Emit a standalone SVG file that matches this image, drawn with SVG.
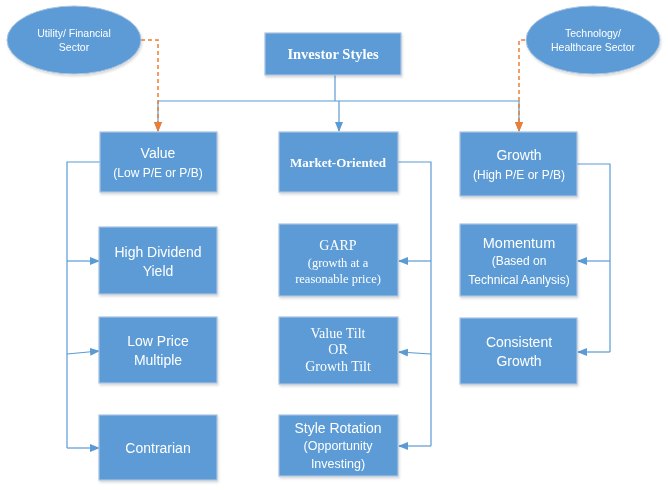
<svg xmlns="http://www.w3.org/2000/svg" width="668" height="490" viewBox="0 0 668 490">
<defs>
<style>
.box{fill:#5B9BD5;stroke:#A9C4E2;stroke-width:1.2}
.ell{fill:#5B9BD5;stroke:#A9C4E2;stroke-width:1}
.t{font-family:"Liberation Sans",Arial,sans-serif;fill:#fff;text-anchor:middle}
.s{font-family:"Liberation Serif","Times New Roman",serif;fill:#fff;text-anchor:middle}
.b{font-weight:bold}
.c{fill:none;stroke:#5B9BD5;stroke-width:1.2}
.o{fill:none;stroke:#ED7D31;stroke-width:1.5;stroke-dasharray:4,3}
</style>
<marker id="ab" markerWidth="10" markerHeight="8" refX="9" refY="4" orient="auto" markerUnits="userSpaceOnUse"><path d="M0,0 L10,4 L0,8 z" fill="#5B9BD5"/></marker>
<marker id="ao" markerWidth="10" markerHeight="8" refX="9" refY="4" orient="auto" markerUnits="userSpaceOnUse"><path d="M0,0 L10,4 L0,8 z" fill="#ED7D31"/></marker>
<filter id="sh" x="-10%" y="-10%" width="130%" height="130%"><feDropShadow dx="1" dy="2" stdDeviation="1.2" flood-color="#000" flood-opacity="0.15"/></filter>
</defs>
<rect width="668" height="490" fill="#fff"/>
<g id="connectors">
<path class="c" d="M335,75 V101"/>
<path class="c" d="M158,101 H519"/>
<path class="c" d="M158,101 V131" marker-end="url(#ab)"/>
<path class="c" d="M339,101 V131" marker-end="url(#ab)"/>
<path class="c" d="M519,101 V131" marker-end="url(#ab)"/>
<path class="c" d="M100,162 H67 V448"/>
<path class="c" d="M67,261 H99" marker-end="url(#ab)"/>
<path class="c" d="M67,354 L99,351" marker-end="url(#ab)"/>
<path class="c" d="M67,448 H99" marker-end="url(#ab)"/>
<path class="c" d="M398,162 H431 V446"/>
<path class="c" d="M431,261 H399" marker-end="url(#ab)"/>
<path class="c" d="M431,354 L399,352" marker-end="url(#ab)"/>
<path class="c" d="M431,446 H399" marker-end="url(#ab)"/>
<path class="c" d="M577,164 H610 V352"/>
<path class="c" d="M610,261 H578" marker-end="url(#ab)"/>
<path class="c" d="M610,352 H578" marker-end="url(#ab)"/>
<path class="o" d="M141,40 H158 V131" marker-end="url(#ao)"/>
<path class="o" d="M525,40 H519 V131" marker-end="url(#ao)"/>
</g>
<g id="utility" filter="url(#sh)"><ellipse class="ell" cx="74" cy="40" rx="67" ry="34"/><text class="t" x="74" y="37" font-size="10.5">Utility/ Financial</text><text class="t" x="74" y="51" font-size="10.5">Sector</text></g>
<g id="technology" filter="url(#sh)"><ellipse class="ell" cx="593" cy="40" rx="67" ry="34"/><text class="t" x="593" y="37" font-size="10.5">Technology/</text><text class="t" x="593" y="51" font-size="10.5">Healthcare Sector</text></g>
<g id="investor" filter="url(#sh)"><rect class="box" x="265" y="33" width="136" height="42"/><text class="s b" x="333" y="59" font-size="14.5">Investor Styles</text></g>
<g id="value" filter="url(#sh)"><rect class="box" x="100" y="132" width="117" height="60"/><text class="t" x="158" y="158" font-size="14">Value</text><text class="t" x="158" y="177" font-size="12">(Low P/E or P/B)</text></g>
<g id="market" filter="url(#sh)"><rect class="box" x="279" y="132" width="119" height="60"/><text class="s b" x="338" y="167" font-size="13">Market-Oriented</text></g>
<g id="growth" filter="url(#sh)"><rect class="box" x="460" y="132" width="117" height="64"/><text class="t" x="519" y="160" font-size="14">Growth</text><text class="t" x="519" y="179" font-size="12">(High P/E or P/B)</text></g>
<g id="highdiv" filter="url(#sh)"><rect class="box" x="99" y="227" width="118" height="67"/><text class="t" x="158" y="257" font-size="14">High Dividend</text><text class="t" x="158" y="276" font-size="14">Yield</text></g>
<g id="lowprice" filter="url(#sh)"><rect class="box" x="99" y="317" width="118" height="66"/><text class="t" x="158" y="346" font-size="14">Low Price</text><text class="t" x="158" y="365" font-size="14">Multiple</text></g>
<g id="contrarian" filter="url(#sh)"><rect class="box" x="99" y="415" width="118" height="65"/><text class="t" x="158" y="453" font-size="14">Contrarian</text></g>
<g id="garp" filter="url(#sh)"><rect class="box" x="279" y="224" width="119" height="72"/><text class="s" x="338" y="250" font-size="14">GARP</text><text class="s" x="338" y="267" font-size="12.5">(growth at a</text><text class="s" x="338" y="283" font-size="12.5">reasonable price)</text></g>
<g id="tilt" filter="url(#sh)"><rect class="box" x="279" y="317" width="119" height="67"/><text class="s" x="338" y="338" font-size="14">Value Tilt</text><text class="s" x="338" y="354" font-size="14">OR</text><text class="s" x="338" y="371" font-size="14">Growth Tilt</text></g>
<g id="rotation" filter="url(#sh)"><rect class="box" x="279" y="415" width="119" height="61"/><text class="t" x="338" y="433" font-size="14">Style Rotation</text><text class="t" x="338" y="450" font-size="12.5">(Opportunity</text><text class="t" x="338" y="468" font-size="12.5">Investing)</text></g>
<g id="momentum" filter="url(#sh)"><rect class="box" x="460" y="224" width="117" height="72"/><text class="t" x="519" y="248" font-size="14.5">Momentum</text><text class="t" x="519" y="265" font-size="12">(Based on</text><text class="t" x="519" y="284" font-size="12">Technical Aanlysis)</text></g>
<g id="consistent" filter="url(#sh)"><rect class="box" x="460" y="318" width="117" height="66"/><text class="t" x="519" y="347" font-size="14">Consistent</text><text class="t" x="519" y="366" font-size="14">Growth</text></g>
</svg>
